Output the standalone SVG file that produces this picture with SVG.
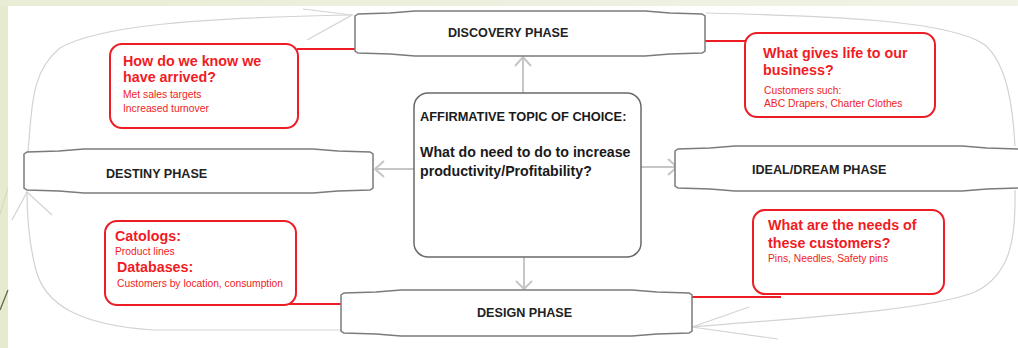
<svg xmlns="http://www.w3.org/2000/svg" width="1018" height="348" viewBox="0 0 1018 348">
<defs>
<linearGradient id="topg" x1="0" y1="0" x2="1" y2="0">
<stop offset="0" stop-color="#e9edd6"/>
<stop offset="1" stop-color="#f1f3e6"/>
</linearGradient>
</defs>
<style>
.phase{fill:#ffffff;stroke:#7b7b7b;stroke-width:1.5}
.ptxt{font-family:"Liberation Sans",Arial,sans-serif;font-weight:bold;font-size:12.6px;fill:#222}
.ctxt{font-family:"Liberation Sans",Arial,sans-serif;font-weight:bold;fill:#1a1a1a}
.rbox{fill:#ffffff;stroke:#ee1c25;stroke-width:2}
.rh{font-family:"Liberation Sans",Arial,sans-serif;font-weight:bold;font-size:14.3px;fill:#f01c24}
.rs{font-family:"Liberation Sans",Arial,sans-serif;font-size:10.3px;fill:#f01c24}
.arr{fill:none;stroke:#c6c6c6;stroke-width:2}
.cur{fill:none;stroke:#d3d3d3;stroke-width:1.2}
.red{fill:none;stroke:#ee1c25;stroke-width:2}
</style>
<rect x="0" y="0" width="1018" height="348" fill="#e6eacf"/>
<rect x="0" y="0" width="1018" height="6" fill="url(#topg)"/>
<rect x="8" y="6" width="1010" height="342" fill="#ffffff"/>
<path d="M0,310 L8,290" stroke="#5c5c48" stroke-width="1.2" fill="none"/>
<path d="M0,214 L8,188" stroke="#d2d6c2" stroke-width="1" fill="none"/>

<g id="connectors">
<path class="cur" d="M28,152 C32,110 30,72 60,48 C100,25 200,18 352,15"/>
<path class="cur" d="M303,9 L352,15 L307,40"/>
<path class="cur" d="M342,330 L153,330 C80,325 45,305 36,270 C28,240 27,215 27,192"/>
<path class="cur" d="M12,220 L27,192 L52,215"/>
<path class="cur" d="M1015,190 C1016,240 1010,275 975,292 C930,310 800,318 692,327"/>
<path class="cur" d="M749,307 L692,327 L778,339"/>
<path class="cur" d="M706,13 C830,16 950,20 985,45 C1008,65 1013,110 1015,146"/>
<path class="arr" d="M523,93 L523,57 M515,66 L523,57 L531,66"/>
<path class="arr" d="M524,257 L524,289 M516,281 L524,289 L532,281"/>
<path class="arr" d="M414,169 L375,169 M384,161 L375,169 L384,177"/>
<path class="arr" d="M641,167 L677,167 M668,159 L677,167 L668,175"/>
<path class="red" d="M297,49 L357,49"/>
<path class="red" d="M704,41 L747,41"/>
<path class="red" d="M287,304 L343,304"/>
<path class="red" d="M691,297 L781,297"/>
</g>

<g id="discovery">
<path class="phase" d="M355,16 L358,14 L390,13 L415,11 L645,11 L670,13 L702,14 L705,16 L705,51 L702,53 L670,54 L645,56 L415,56 L390,54 L358,53 L355,51 Z"/>
<text class="ptxt" x="448" y="36.5">DISCOVERY PHASE</text>
</g>

<g id="destiny">
<path class="phase" d="M24,154 L27,152 L59,151 L84,149 L313,149 L338,151 L370,152 L373,154 L373,188 L370,190 L338,191 L313,193 L84,193 L59,191 L27,190 L24,188 Z"/>
<text class="ptxt" x="106" y="177.5">DESTINY PHASE</text>
</g>

<g id="ideal">
<path class="phase" d="M675,151 L678,149 L710,148 L735,146 L962,146 L987,148 L1019,149 L1022,151 L1022,186 L1019,188 L987,189 L962,191 L735,191 L710,189 L678,188 L675,186 Z"/>
<text class="ptxt" x="752" y="173.5">IDEAL/DREAM PHASE</text>
</g>

<g id="design">
<path class="phase" d="M341,295 L344,293 L376,292 L401,290 L632,290 L657,292 L689,293 L692,295 L692,331 L689,333 L657,334 L632,336 L401,336 L376,334 L344,333 L341,331 Z"/>
<text class="ptxt" x="477" y="316.5">DESIGN PHASE</text>
</g>

<g id="topic">
<rect x="414" y="93" width="227" height="164" rx="14" fill="#ffffff" stroke="#6a6a6a" stroke-width="1.5"/>
<text class="ctxt" x="420" y="120.5" font-size="12.8px">AFFIRMATIVE TOPIC OF CHOICE:</text>
<text class="ctxt" x="420" y="157" font-size="14.2px">What do need to do to increase</text>
<text class="ctxt" x="420" y="175.5" font-size="14.2px">productivity/Profitability?</text>
</g>

<g id="arrived">
<rect class="rbox" x="110" y="44" width="188" height="84" rx="12"/>
<text class="rh" x="123" y="66">How do we know we</text>
<text class="rh" x="123" y="82">have arrived?</text>
<text class="rs" x="123" y="98">Met sales targets</text>
<text class="rs" x="123" y="112">Increased turnover</text>
</g>

<g id="life">
<rect class="rbox" x="745" y="33" width="190" height="84" rx="12"/>
<text class="rh" x="763" y="58">What gives life to our</text>
<text class="rh" x="763" y="75">business?</text>
<text class="rs" x="764" y="94">Customers such:</text>
<text class="rs" x="764" y="107">ABC Drapers, Charter Clothes</text>
</g>

<g id="catologs">
<rect class="rbox" x="105" y="221" width="191" height="84" rx="12"/>
<text class="rh" x="115" y="241" font-size="13px">Catologs:</text>
<text class="rs" x="115" y="255">Product lines</text>
<text class="rh" x="117" y="272" font-size="13px">Databases:</text>
<text class="rs" x="117" y="287">Customers by location, consumption</text>
</g>

<g id="needs">
<rect class="rbox" x="753" y="210" width="191" height="84" rx="12"/>
<text class="rh" x="768" y="230">What are the needs of</text>
<text class="rh" x="768" y="248">these customers?</text>
<text class="rs" x="768" y="262">Pins, Needles, Safety pins</text>
</g>
</svg>
